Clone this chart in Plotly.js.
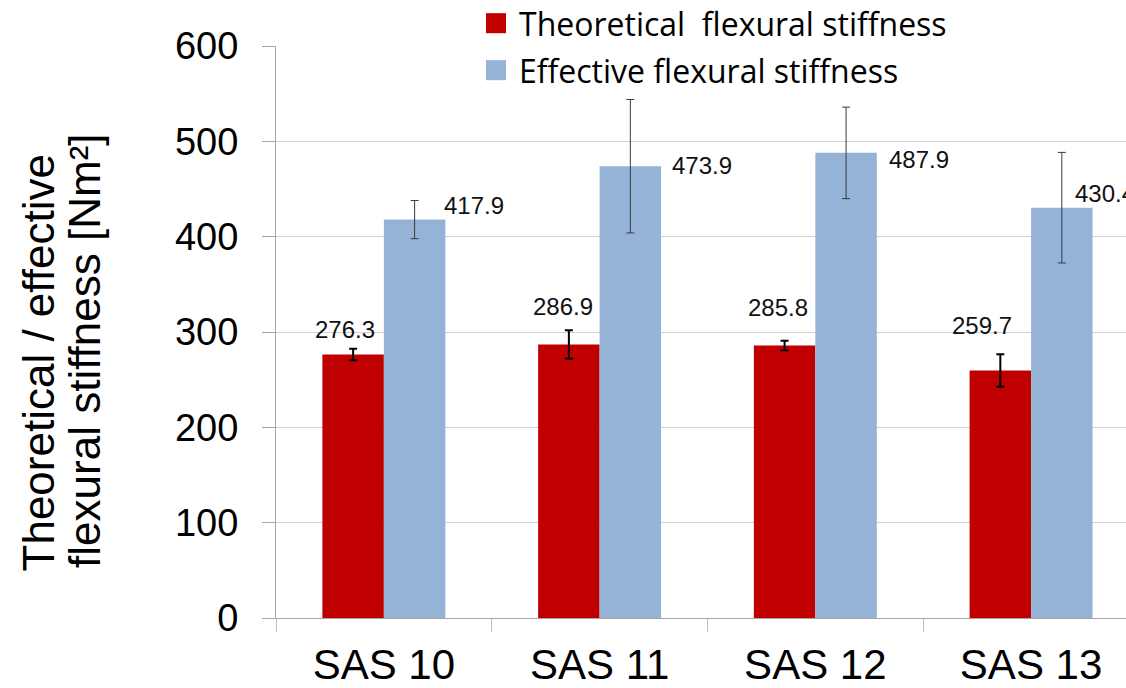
<!DOCTYPE html>
<html>
<head>
<meta charset="utf-8">
<script src="https://cdn.plot.ly/plotly-3.0.1.min.js"></script>
<style>html,body{margin:0;padding:0;background:#fff;}#chart{width:1126px;height:688px;}</style>
</head>
<body>
<div id="chart"></div>
<script>
// ---- data ----
const categories = ['SAS 10', 'SAS 11', 'SAS 12', 'SAS 13'];
const seriesNames = ['Theoretical\u00a0 flexural stiffness', 'Effective flexural stiffness'];
const theoretical = [276.3, 286.9, 285.8, 259.7];
const theoreticalErr = [6, 15, 5, 17];
const effective = [417.9, 473.9, 487.9, 430.4];
const effectiveErr = [20, 70, 48, 58];
const yTicks = [0, 100, 200, 300, 400, 500, 600];

// ---- style ----
const COLORS = ['#C00000', '#95B3D7'];
const FONT = 'Liberation Sans, Arial, sans-serif';
const theoShift = [[-39, 25], [-37, 38], [-37, 38], [-49, 45]];
const effShift = [[58, 14], [70, 1], [72, -7], [42, 14]];

const traces = [
  {
    type: 'bar', name: seriesNames[0],
    x: categories, y: theoretical,
    marker: {color: COLORS[0], line: {width: 0}},
    error_y: {type: 'data', array: theoreticalErr, visible: true, color: '#000000', thickness: 2, width: 4},
    hoverinfo: 'skip'
  },
  {
    type: 'bar', name: seriesNames[1],
    x: categories, y: effective,
    marker: {color: COLORS[1], line: {width: 0}},
    error_y: {type: 'data', array: effectiveErr, visible: true, color: '#3a3a3a', thickness: 1, width: 4},
    hoverinfo: 'skip'
  }
];

const annotations = [];
categories.forEach((c, i) => {
  annotations.push({
    x: c, y: theoretical[i], xref: 'x', yref: 'y',
    text: theoretical[i].toFixed(1), showarrow: false,
    xanchor: 'center', yanchor: 'middle',
    xshift: theoShift[i][0], yshift: theoShift[i][1],
    font: {family: FONT, size: 24, color: '#111'}
  });
  annotations.push({
    x: c, y: effective[i], xref: 'x', yref: 'y',
    text: effective[i].toFixed(1), showarrow: false,
    xanchor: 'left', yanchor: 'middle',
    xshift: effShift[i][0], yshift: effShift[i][1],
    font: {family: FONT, size: 24, color: '#111'}
  });
});
// y-axis title as two rotated lines
annotations.push({
  xref: 'paper', yref: 'paper', x: 0, y: 0.445, xshift: -238,
  text: 'Theoretical / effective', textangle: -90, showarrow: false,
  xanchor: 'center', yanchor: 'middle',
  font: {family: FONT, size: 44, color: '#000'}
});
annotations.push({
  xref: 'paper', yref: 'paper', x: 0, y: 0.467, xshift: -191,
  text: 'flexural stiffness [Nm\u00b2]', textangle: -90, showarrow: false,
  xanchor: 'center', yanchor: 'middle',
  font: {family: FONT, size: 44, color: '#000'}
});

// legend (drawn as paper-anchored swatches + text)
const legendRows = [{yTop: 1.0574, yBot: 1.0224, yText: 1.0400}, {yTop: 0.9752, yBot: 0.9402, yText: 0.9580}];
const shapes = [];
seriesNames.forEach((n, i) => {
  shapes.push({
    type: 'rect', xref: 'paper', yref: 'paper',
    x0: 0.2471, x1: 0.2706, y0: legendRows[i].yBot, y1: legendRows[i].yTop,
    fillcolor: COLORS[i], line: {width: 0}
  });
  annotations.push({
    xref: 'paper', yref: 'paper', x: 0.2835, y: legendRows[i].yText,
    xanchor: 'left', yanchor: 'middle', showarrow: false,
    text: n, font: {family: 'Open Sans, sans-serif', size: 32, color: '#000'}
  });
});

const layout = {
  width: 1126, height: 688,
  margin: {l: 276, r: 0, t: 46, b: 70, pad: 0},
  paper_bgcolor: '#ffffff', plot_bgcolor: '#ffffff',
  barmode: 'group', bargap: 0.43, bargroupgap: 0,
  showlegend: false,
  xaxis: {
    type: 'category', range: [-0.5, 3.44],
    showline: true, linecolor: '#a6a6a6', linewidth: 1,
    ticks: 'outside', tickson: 'boundaries', ticklen: 13, tickcolor: '#bfbfbf', tickwidth: 1,
    showgrid: false, zeroline: false,
    tickfont: {family: FONT, size: 42, color: '#000'},
    ticklabelstandoff: 10,
    fixedrange: true
  },
  yaxis: {
    range: [0, 600], tickvals: yTicks, ticktext: yTicks.map(String),
    showline: true, linecolor: '#a6a6a6', linewidth: 1,
    ticks: 'outside', ticklen: 13, tickcolor: '#a6a6a6', tickwidth: 1,
    showgrid: true, gridcolor: '#d0d0d0', gridwidth: 1,
    zeroline: false,
    tickfont: {family: FONT, size: 38, color: '#000'},
    ticklabelstandoff: 16,
    fixedrange: true
  },
  shapes: shapes,
  annotations: annotations
};

Plotly.newPlot('chart', traces, layout, {displayModeBar: false, staticPlot: true});
</script>
</body>
</html>
